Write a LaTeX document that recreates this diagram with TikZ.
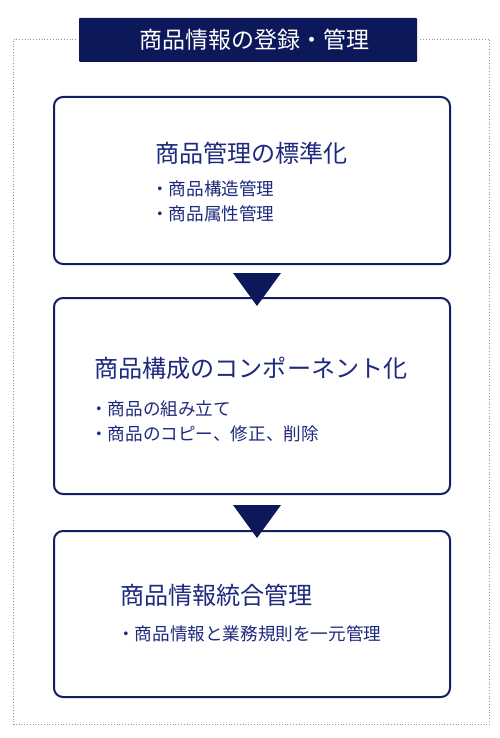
\documentclass[tikz,border=0pt]{standalone}
\usepackage{fontspec}
\newfontfamily\jp{Noto Sans CJK JP}
\definecolor{navy}{RGB}{12,24,90}
\definecolor{boxline}{RGB}{20,30,100}
\definecolor{txt}{RGB}{30,42,125}
\definecolor{frame}{RGB}{150,150,150}
\begin{document}
\begin{tikzpicture}[x=1pt,y=-1pt,
  stagebox/.style={draw=boxline,line width=2pt,rounded corners=9pt},
  headtext/.style={anchor=west,inner sep=0pt,text=txt,font=\jp\fontsize{24.1}{27}\selectfont},
  itemtext/.style={anchor=west,inner sep=0pt,text=txt,font=\jp\fontsize{17.6}{20}\selectfont},
  flowtri/.style={fill=navy,draw=none}]
\useasboundingbox (0,0) rectangle (500,738);
\fill[white] (0,0) rectangle (500,738);
% outer dotted frame
\draw[frame,dotted,line width=0.8pt] (76,39) -- (13.5,39) -- (13.5,724.5) -- (489,724.5) -- (489,39) -- (420,39);
% title
\node[fill=navy,rounded corners=1pt,minimum width=338pt,minimum height=44pt,inner sep=0pt] (title) at (248,40) {};
\node[inner sep=0pt,text=white,font=\jp\fontsize{23}{26}\selectfont] (titletext) at (254,40) {商品情報の登録・管理};
% boxes
\node[stagebox,minimum width=396pt,minimum height=167pt] (b1) at (252,180.5) {};
\node[stagebox,minimum width=396pt,minimum height=196pt] (b2) at (252,396) {};
\node[stagebox,minimum width=396pt,minimum height=166pt] (b3) at (252,614) {};
% texts
\node[headtext] (h1) at (155,153) {商品管理の標準化};
\node[itemtext] (i11) at (151,189) {・商品構造管理};
\node[itemtext] (i12) at (151,214) {・商品属性管理};
\node[headtext] (h2) at (94,368) {商品構成のコンポーネント化};
\node[itemtext] (i21) at (90,409) {・商品の組み立て};
\node[itemtext] (i22) at (90,434) {・商品のコピー、修正、削除};
\node[headtext] (h3) at (120,595) {商品情報統合管理};
\node[itemtext] (i31) at (117,634) {・商品情報と業務規則を一元管理};
% arrows
\fill[flowtri] (233,273) -- (281,273) -- (257,306) -- cycle;
\fill[flowtri] (233,505) -- (281,505) -- (257,538) -- cycle;
\end{tikzpicture}
\end{document}
